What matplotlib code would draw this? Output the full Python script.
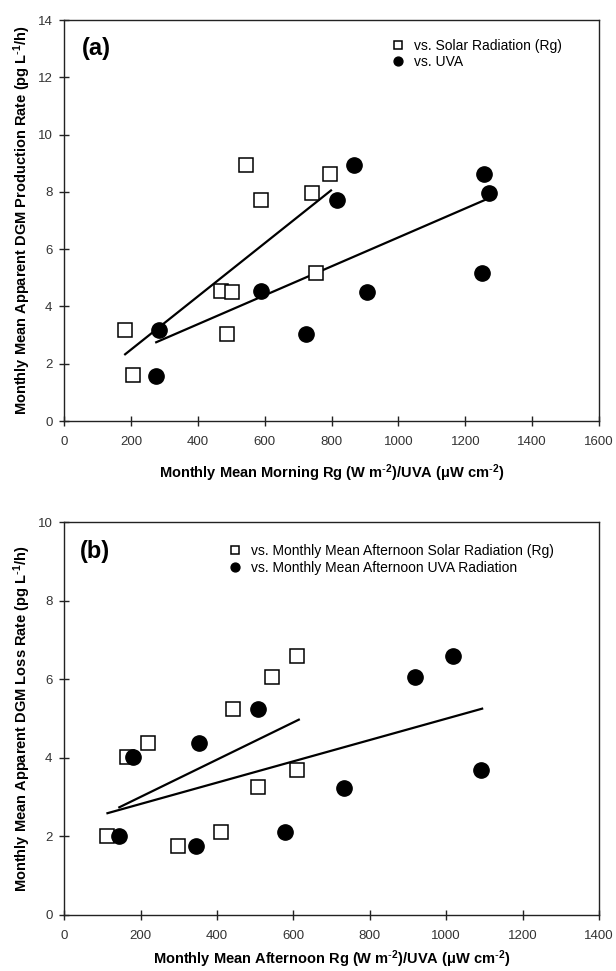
import numpy as np
import matplotlib
matplotlib.use("Agg")
import matplotlib.pyplot as plt

plt.rcParams["font.family"] = ["Liberation Sans", "DejaVu Sans"]
plt.rcParams["mathtext.default"] = "regular"

# ===============================
# DATA
# ===============================
# panel (a) - morning production
a_rg_x = [182, 206, 470, 502, 487, 543, 590, 740, 795, 752]
a_rg_y = [3.19, 1.59, 4.53, 4.50, 3.05, 8.93, 7.71, 7.95, 8.63, 5.17]
a_uva_x = [275, 284, 590, 722, 815, 866, 907, 1251, 1256, 1271]
a_uva_y = [1.58, 3.19, 4.53, 3.05, 7.70, 8.93, 4.50, 5.17, 8.62, 7.95]
a_fit_rg_x = [182, 798]
a_fit_rg_y = [2.33, 8.05]
a_fit_uva_x = [275, 1263]
a_fit_uva_y = [2.75, 7.74]

# panel (b) - afternoon loss
b_rg_x = [113, 164, 218, 298, 411, 442, 507, 544, 608, 608]
b_rg_y = [2.01, 4.03, 4.37, 1.76, 2.11, 5.25, 3.25, 6.05, 3.68, 6.60]
b_uva_x = [143, 181, 344, 353, 506, 578, 732, 918, 1017, 1091]
b_uva_y = [2.01, 4.03, 1.76, 4.37, 5.25, 2.11, 3.23, 6.05, 6.60, 3.68]
b_fit_rg_x = [144, 614]
b_fit_rg_y = [2.74, 4.97]
b_fit_uva_x = [113, 1094]
b_fit_uva_y = [2.59, 5.25]

# ===============================
# FIGURE
# ===============================
fig = plt.figure(figsize=(6.16, 9.71), dpi=100)
ax_a = fig.add_axes([0.1044, 0.5664, 0.868, 0.413])
ax_b = fig.add_axes([0.1044, 0.0577, 0.868, 0.4047])

UNITS = "Rg (W m$^{\\text{-}2}$)/UVA (\u03bcW cm$^{\\text{-}2}$)"


def style_axes(ax, xmax, xstep, ymax, ystep):
    ax.set_xlim(0, xmax)
    ax.set_ylim(0, ymax)
    ax.set_xticks(np.arange(0, xmax + 1, xstep))
    ax.set_yticks(np.arange(0, ymax + 1, ystep))
    ax.tick_params(direction="inout", length=7, width=1, labelsize=9.5,
                   labelcolor="#333333", color="#222222")
    ax.tick_params(axis="x", pad=7)
    ax.tick_params(axis="y", pad=5)
    for s in ax.spines.values():
        s.set_color("#222222")
        s.set_linewidth(1)


def draw_panel(ax, rg_x, rg_y, uva_x, uva_y, fr_x, fr_y, fu_x, fu_y, lab_rg, lab_uva):
    ax.plot(rg_x, rg_y, "s", ms=10.5, mfc="white", mec="black", mew=1.1, label=lab_rg, zorder=3)
    ax.plot(uva_x, uva_y, "o", ms=11, mfc="black", mec="black", label=lab_uva, zorder=3)
    ax.plot(fr_x, fr_y, color="black", lw=1.6, zorder=2)
    ax.plot(fu_x, fu_y, color="black", lw=1.6, zorder=2)


def add_legend(ax, x0, y0, spacing):
    ax.legend(loc="upper left", bbox_to_anchor=(x0, y0), frameon=False,
              fontsize=10, markerscale=0.58, handlelength=0.8, handletextpad=0.75,
              borderpad=0, borderaxespad=0, labelspacing=spacing)


# GRAPH (a)
style_axes(ax_a, 1600, 200, 14, 2)
draw_panel(ax_a, a_rg_x, a_rg_y, a_uva_x, a_uva_y,
           a_fit_rg_x, a_fit_rg_y, a_fit_uva_x, a_fit_uva_y,
           "vs. Solar Radiation (Rg)", "vs. UVA")
ax_a.text(0.033, 0.93, "(a)", transform=ax_a.transAxes, fontsize=17,
          fontweight="bold", va="center", ha="left")
ax_a.set_xlabel("Monthly Mean Morning " + UNITS,
                fontsize=10.5, fontweight="bold", labelpad=11)
ax_a.set_ylabel("Monthly Mean Apparent DGM Production Rate (pg L$^{\\text{-}1}$/h)",
                fontsize=10.5, fontweight="bold", labelpad=3)
add_legend(ax_a, 0.614, 0.953, 0.12)

# GRAPH (b)
style_axes(ax_b, 1400, 200, 10, 2)
draw_panel(ax_b, b_rg_x, b_rg_y, b_uva_x, b_uva_y,
           b_fit_rg_x, b_fit_rg_y, b_fit_uva_x, b_fit_uva_y,
           "vs. Monthly Mean Afternoon Solar Radiation (Rg)",
           "vs. Monthly Mean Afternoon UVA Radiation")
ax_b.text(0.03, 0.926, "(b)", transform=ax_b.transAxes, fontsize=17,
          fontweight="bold", va="center", ha="left")
ax_b.set_xlabel("Monthly Mean Afternoon " + UNITS,
                fontsize=10.5, fontweight="bold", labelpad=5)
ax_b.set_ylabel("Monthly Mean Apparent DGM Loss Rate (pg L$^{\\text{-}1}$/h)",
                fontsize=10.5, fontweight="bold", labelpad=3)
add_legend(ax_b, 0.309, 0.944, 0.2)

plt.savefig("out.png", dpi=100)
